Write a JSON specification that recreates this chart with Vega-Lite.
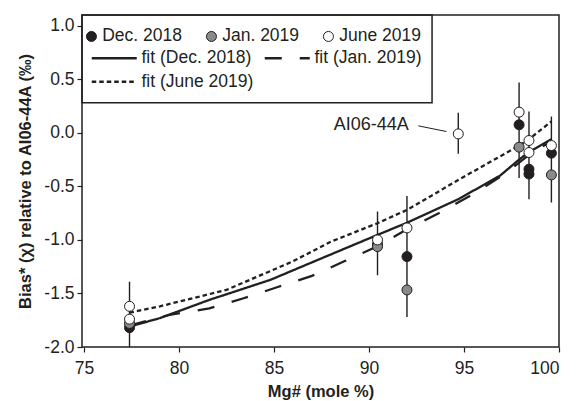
{
  "$schema": "https://vega.github.io/schema/vega-lite/v6.json",
  "width": 477,
  "height": 332,
  "autosize": {"type": "none"},
  "padding": {"left": 82, "top": 15, "right": 18, "bottom": 54},
  "background": "white",
  "config": {
    "font": "Liberation Sans",
    "view": {"stroke": "#231f20", "strokeWidth": 1.5},
    "axis": {
      "domain": false,
      "grid": false,
      "ticks": true,
      "tickSize": 5,
      "tickWidth": 1.2,
      "tickColor": "#231f20",
      "labelFont": "Liberation Sans",
      "labelFontSize": 17.5,
      "labelColor": "#231f20",
      "titleFont": "Liberation Sans",
      "titleFontSize": 16.5,
      "titleFontWeight": "bold",
      "titleColor": "#231f20"
    },
    "legend": {
      "labelFont": "Liberation Sans",
      "labelFontSize": 17.5,
      "labelColor": "#231f20",
      "gridAlign": "none"
    }
  },
  "datasets": {
    "points": [
      {"mg": 77.4, "bias": -1.82, "series": "Dec. 2018"},
      {"mg": 90.45, "bias": -1.04, "series": "Dec. 2018"},
      {"mg": 92.0, "bias": -1.156, "series": "Dec. 2018"},
      {"mg": 97.9, "bias": 0.075, "series": "Dec. 2018"},
      {"mg": 98.42, "bias": -0.34, "series": "Dec. 2018"},
      {"mg": 98.42, "bias": -0.385, "series": "Dec. 2018"},
      {"mg": 99.6, "bias": -0.19, "series": "Dec. 2018"},
      {"mg": 77.4, "bias": -1.78, "series": "Jan. 2019"},
      {"mg": 90.45, "bias": -1.063, "series": "Jan. 2019"},
      {"mg": 92.0, "bias": -1.467, "series": "Jan. 2019"},
      {"mg": 97.9, "bias": -0.134, "series": "Jan. 2019"},
      {"mg": 99.6, "bias": -0.393, "series": "Jan. 2019"},
      {"mg": 77.4, "bias": -1.62, "series": "June 2019"},
      {"mg": 77.4, "bias": -1.74, "series": "June 2019"},
      {"mg": 90.45, "bias": -1.0, "series": "June 2019"},
      {"mg": 92.0, "bias": -0.888, "series": "June 2019"},
      {"mg": 94.7, "bias": -0.01, "series": "June 2019"},
      {"mg": 97.9, "bias": 0.193, "series": "June 2019"},
      {"mg": 98.42, "bias": -0.072, "series": "June 2019"},
      {"mg": 98.42, "bias": -0.184, "series": "June 2019"},
      {"mg": 99.6, "bias": -0.119, "series": "June 2019"}
    ],
    "bars": [
      {"mg": 77.4, "lo": -2.0, "hi": -1.39},
      {"mg": 90.45, "lo": -1.33, "hi": -0.735},
      {"mg": 92.0, "lo": -1.72, "hi": -0.59},
      {"mg": 94.7, "lo": -0.196, "hi": 0.187},
      {"mg": 97.9, "lo": -0.423, "hi": 0.47},
      {"mg": 98.42, "lo": -0.62, "hi": 0.2},
      {"mg": 99.6, "lo": -0.651, "hi": 0.152}
    ],
    "fits": [
      {"mg": 77.4, "bias": -1.81, "fit": "fit (Dec. 2018)"},
      {"mg": 79.0, "bias": -1.73, "fit": "fit (Dec. 2018)"},
      {"mg": 81.6, "bias": -1.56, "fit": "fit (Dec. 2018)"},
      {"mg": 84.8, "bias": -1.374, "fit": "fit (Dec. 2018)"},
      {"mg": 87.8, "bias": -1.15, "fit": "fit (Dec. 2018)"},
      {"mg": 90.45, "bias": -0.953, "fit": "fit (Dec. 2018)"},
      {"mg": 92.0, "bias": -0.84, "fit": "fit (Dec. 2018)"},
      {"mg": 94.7, "bias": -0.62, "fit": "fit (Dec. 2018)"},
      {"mg": 96.9, "bias": -0.4, "fit": "fit (Dec. 2018)"},
      {"mg": 97.9, "bias": -0.25, "fit": "fit (Dec. 2018)"},
      {"mg": 98.42, "bias": -0.18, "fit": "fit (Dec. 2018)"},
      {"mg": 99.6, "bias": -0.06, "fit": "fit (Dec. 2018)"},
      {"mg": 77.4, "bias": -1.8, "fit": "fit (Jan. 2019)"},
      {"mg": 79.5, "bias": -1.7, "fit": "fit (Jan. 2019)"},
      {"mg": 81.6, "bias": -1.64, "fit": "fit (Jan. 2019)"},
      {"mg": 83.4, "bias": -1.545, "fit": "fit (Jan. 2019)"},
      {"mg": 85.2, "bias": -1.44, "fit": "fit (Jan. 2019)"},
      {"mg": 87.0, "bias": -1.336, "fit": "fit (Jan. 2019)"},
      {"mg": 88.7, "bias": -1.2, "fit": "fit (Jan. 2019)"},
      {"mg": 90.45, "bias": -1.06, "fit": "fit (Jan. 2019)"},
      {"mg": 92.0, "bias": -0.9, "fit": "fit (Jan. 2019)"},
      {"mg": 93.74, "bias": -0.745, "fit": "fit (Jan. 2019)"},
      {"mg": 95.4, "bias": -0.58, "fit": "fit (Jan. 2019)"},
      {"mg": 97.07, "bias": -0.393, "fit": "fit (Jan. 2019)"},
      {"mg": 98.65, "bias": -0.175, "fit": "fit (Jan. 2019)"},
      {"mg": 99.6, "bias": -0.08, "fit": "fit (Jan. 2019)"},
      {"mg": 77.4, "bias": -1.68, "fit": "fit (June 2019)"},
      {"mg": 79.0, "bias": -1.62, "fit": "fit (June 2019)"},
      {"mg": 82.5, "bias": -1.467, "fit": "fit (June 2019)"},
      {"mg": 86.0, "bias": -1.2, "fit": "fit (June 2019)"},
      {"mg": 88.0, "bias": -1.016, "fit": "fit (June 2019)"},
      {"mg": 90.45, "bias": -0.844, "fit": "fit (June 2019)"},
      {"mg": 92.0, "bias": -0.72, "fit": "fit (June 2019)"},
      {"mg": 95.0, "bias": -0.41, "fit": "fit (June 2019)"},
      {"mg": 97.9, "bias": -0.12, "fit": "fit (June 2019)"},
      {"mg": 98.42, "bias": -0.06, "fit": "fit (June 2019)"},
      {"mg": 99.6, "bias": 0.106, "fit": "fit (June 2019)"}
    ],
    "notes": [
      {"mg": 92.1, "bias": 0.075, "label": "AI06-44A", "mg2": 94.08, "bias2": 0.012, "mgL": 92.6, "biasL": 0.065}
    ]
  },
  "encoding": {
    "x": {
      "type": "quantitative",
      "scale": {"domain": [74.9, 100], "nice": false, "zero": false},
      "axis": {"values": [75, 80, 85, 90, 95, 100], "title": "Mg# (mole %)", "labelPadding": 7, "titlePadding": 7}
    },
    "y": {
      "type": "quantitative",
      "scale": {"domain": [-2.0, 1.1], "nice": false, "zero": false},
      "axis": {
        "values": [-2, -1.5, -1, -0.5, 0, 0.5, 1],
        "labelExpr": "replace(format(datum.value, '.1f'), '\u2212', '-')",
        "title": "Bias* (χ) relative to AI06-44A (‰)",
        "labelPadding": 3,
        "titlePadding": 10
      }
    }
  },
  "layer": [
    {
      "data": {"values": [{}]},
      "mark": {"type": "rect", "fill": null, "fillOpacity": 0, "stroke": "#231f20", "strokeWidth": 1.5},
      "encoding": {
        "x": {"datum": 74.9, "type": "quantitative"},
        "x2": {"datum": 93.32},
        "y": {"datum": 1.1, "type": "quantitative"},
        "y2": {"datum": 0.28}
      }
    },
    {
      "data": {"name": "bars"},
      "mark": {"type": "rule", "color": "#231f20", "strokeWidth": 1.4},
      "encoding": {
        "x": {"field": "mg", "type": "quantitative"},
        "y": {"field": "lo", "type": "quantitative"},
        "y2": {"field": "hi"}
      }
    },
    {
      "data": {"name": "fits"},
      "mark": {"type": "line", "color": "#231f20", "strokeWidth": 2.3},
      "encoding": {
        "x": {"field": "mg", "type": "quantitative"},
        "y": {"field": "bias", "type": "quantitative"},
        "strokeDash": {
          "field": "fit",
          "type": "nominal",
          "scale": {
            "domain": ["fit (Dec. 2018)", "fit (Jan. 2019)", "fit (June 2019)"],
            "range": [[1, 0], [17, 18], [4.5, 3]]
          },
          "legend": {
            "title": "fit",
            "titleOpacity": 0,
            "titleFontSize": 17.5,
            "titlePadding": 11,
            "orient": "none",
            "legendX": 0,
            "legendY": 0,
            "direction": "horizontal",
            "columns": 2,
            "padding": 6,
            "symbolType": "M-1,0H8",
            "symbolSize": 100,
            "symbolStrokeWidth": 2.3,
            "symbolStrokeColor": "#231f20",
            "labelOffset": 36,
            "columnPadding": 6,
            "rowPadding": 4.5
          }
        }
      }
    },
    {
      "data": {"name": "points"},
      "mark": {"type": "point", "filled": true, "shape": "circle", "size": 100, "stroke": "#231f20", "strokeWidth": 1, "opacity": 1},
      "encoding": {
        "x": {"field": "mg", "type": "quantitative"},
        "y": {"field": "bias", "type": "quantitative"},
        "fill": {
          "field": "series",
          "type": "nominal",
          "scale": {"domain": ["Dec. 2018", "Jan. 2019", "June 2019"], "range": ["#231f20", "#8a8a8a", "#ffffff"]},
          "legend": {
            "title": null,
            "orient": "none",
            "legendX": 0.7,
            "legendY": 12.7,
            "direction": "horizontal",
            "padding": 0,
            "symbolType": "circle",
            "symbolSize": 100,
            "symbolStrokeColor": "#231f20",
            "symbolStrokeWidth": 1,
            "labelOffset": 2,
            "columnPadding": 20
          }
        }
      }
    },
    {
      "data": {"name": "notes"},
      "mark": {"type": "text", "align": "right", "baseline": "middle", "fontSize": 18, "color": "#231f20", "font": "Liberation Sans"},
      "encoding": {
        "x": {"field": "mg", "type": "quantitative"},
        "y": {"field": "bias", "type": "quantitative"},
        "text": {"field": "label"}
      }
    },
    {
      "data": {"name": "notes"},
      "mark": {"type": "rule", "color": "#231f20", "strokeWidth": 1},
      "encoding": {
        "x": {"field": "mgL", "type": "quantitative"},
        "y": {"field": "biasL", "type": "quantitative"},
        "x2": {"field": "mg2"},
        "y2": {"field": "bias2"}
      }
    }
  ]
}
